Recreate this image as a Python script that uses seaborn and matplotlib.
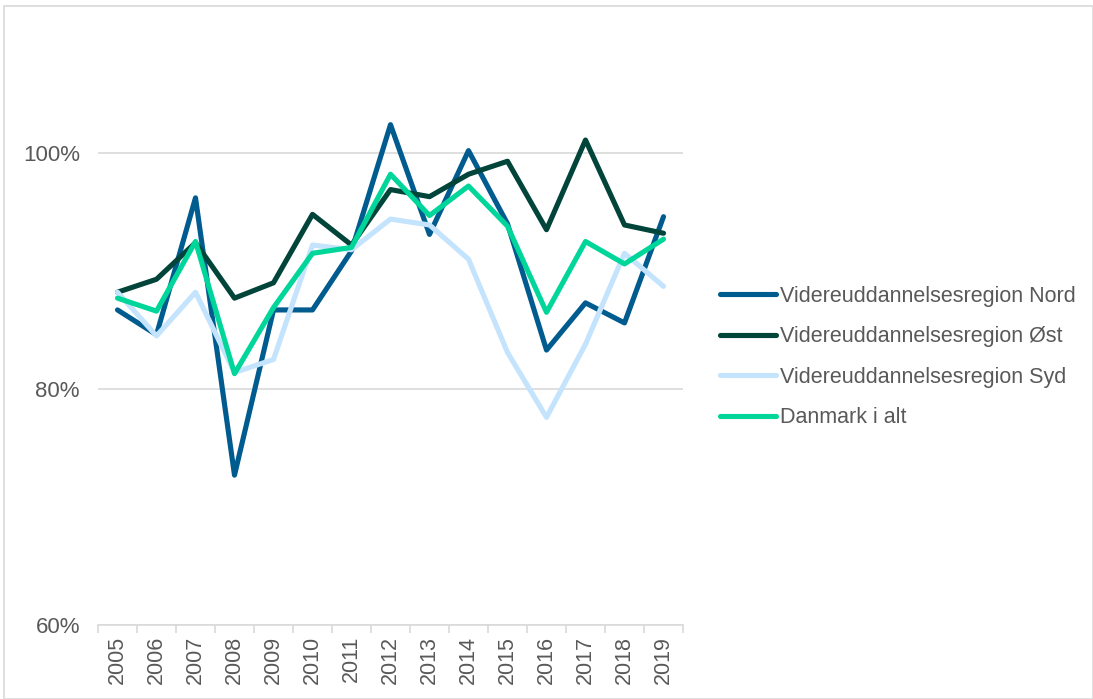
import matplotlib
matplotlib.use("Agg")
import matplotlib.pyplot as plt
from matplotlib.patches import Rectangle
from matplotlib.ticker import FixedLocator, FuncFormatter
import numpy as np
import pandas as pd
import seaborn as sns

years = [str(y) for y in range(2005, 2020)]

nord = [86.7, 84.6, 96.2, 72.7, 86.7, 86.7, 91.7, 102.4, 93.1, 100.2, 94.0, 83.3, 87.3, 85.6, 94.6]
oest = [88.2, 89.3, 92.4, 87.7, 89.0, 94.8, 92.2, 96.9, 96.3, 98.2, 99.3, 93.5, 101.1, 93.9, 93.2]
syd = [88.2, 84.5, 88.2, 81.4, 82.5, 92.2, 91.8, 94.4, 93.9, 91.0, 83.1, 77.6, 83.8, 91.5, 88.7]
danmark = [87.7, 86.6, 92.5, 81.3, 86.9, 91.5, 92.0, 98.2, 94.7, 97.2, 93.8, 86.5, 92.5, 90.6, 92.7]

series_names = [
    "Videreuddannelsesregion Nord",
    "Videreuddannelsesregion Øst",
    "Videreuddannelsesregion Syd",
    "Danmark i alt",
]
series_values = [nord, oest, syd, danmark]
colors = ["#005b8e", "#00443a", "#c4e3fd", "#00d69a"]

df = pd.DataFrame(
    [
        {"year": y, "series": name, "value": v / 100}
        for name, vals in zip(series_names, series_values)
        for y, v in zip(years, vals)
    ]
)

sns.set_theme(style="white")
plt.rcParams["font.family"] = ["Liberation Sans", "DejaVu Sans"]

fig = plt.figure(figsize=(10.93, 6.99), dpi=100)
ax = fig.add_axes([98 / 1093, 74 / 699, 585 / 1093, 590 / 699])

# outer chart border
fig.patches.append(
    Rectangle((4 / 1093, 0), 1 - 4 / 1093, 1 - 6 / 699, transform=fig.transFigure,
              fill=False, edgecolor="#d9d9d9", linewidth=1.2)
)

sns.lineplot(data=df, x="year", y="value", hue="series", hue_order=series_names,
             palette=colors, linewidth=3.7, ax=ax, sort=False)

ax.set_ylim(0.6, 1.1)
ax.set_xlim(-0.5, len(years) - 0.5)
ax.yaxis.set_major_locator(FixedLocator([0.6, 0.8, 1.0]))
ax.yaxis.set_major_formatter(FuncFormatter(lambda v, _: f"{v * 100:.0f}%"))
ax.grid(axis="y", color="#d9d9d9", linewidth=1.2)
ax.set_axisbelow(True)

ax.set_xticks(range(len(years)))
ax.set_xticklabels(years, rotation=90)
ax.set_xticks(np.arange(-0.5, len(years)), minor=True)
ax.tick_params(axis="x", which="major", length=0, pad=8, labelsize=15.5, labelcolor="#595959")
ax.tick_params(axis="x", which="minor", length=6, width=1.2, color="#d9d9d9", direction="out", bottom=True)
ax.tick_params(axis="y", length=0, labelsize=16, labelcolor="#595959", pad=13)

for side in ["top", "right", "left"]:
    ax.spines[side].set_visible(False)
ax.spines["bottom"].set_color("#d9d9d9")
ax.spines["bottom"].set_linewidth(1.2)

ax.set_xlabel("")
ax.set_ylabel("")

handles, labels = ax.get_legend_handles_labels()
ax.legend(handles, labels, loc="center left", bbox_to_anchor=(720 / 1093, 1 - 357 / 699),
          bbox_transform=fig.transFigure, frameon=False, fontsize=15.5, handlelength=2.6,
          handletextpad=0.2, labelspacing=0.9, borderpad=0, borderaxespad=0,
          labelcolor="#595959")

fig.savefig("out.png", dpi=100)
